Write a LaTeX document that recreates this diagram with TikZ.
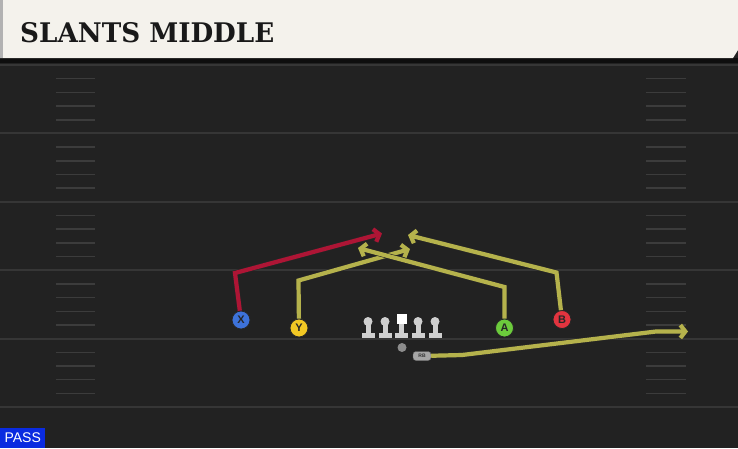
\documentclass[tikz,border=0pt]{standalone}
\usepackage{fontspec}
\setmainfont{DejaVu Serif}
\setsansfont{Liberation Sans}
\usetikzlibrary{arrows.meta}

\definecolor{field}{HTML}{222222}
\definecolor{yardline}{HTML}{363636}
\definecolor{hashline}{HTML}{3C3C3C}
\definecolor{cream}{HTML}{F4F2EC}
\definecolor{routeyel}{HTML}{B5B24C}
\definecolor{routered}{HTML}{AE1535}
\definecolor{xblue}{HTML}{3D72D9}
\definecolor{yyel}{HTML}{F2C824}
\definecolor{agreen}{HTML}{6CCB3C}
\definecolor{bred}{HTML}{E2343F}
\definecolor{lineman}{HTML}{CFCFCF}
\definecolor{passblue}{HTML}{0A2BE0}

\begin{document}
\begin{tikzpicture}[x=1pt, y=-1pt,
    route/.style={line width=4.2pt, line join=miter, -{Straight Barb[length=5pt,width=13pt]},
      preaction={draw=black!85, line width=5.4pt}},
    player/.style={circle, draw=black!85, line width=0.8pt, minimum size=18pt, inner sep=0pt,
      font=\sffamily\bfseries\fontsize{11}{11}\selectfont, text=black!85},
    hash/.style={hashline, line width=1.5pt},
    yard/.style={yardline, line width=2pt}]
  \useasboundingbox (0,0) rectangle (738,448);
  \fill[field] (0,0) rectangle (738,448);

  % field lines
  \foreach \i in {0,...,5} {
    \draw[yard] (0,65+68.4*\i) -- (738,65+68.4*\i);
  }
  \foreach \i in {0,...,4} {
    \foreach \k in {1,...,4} {
      \draw[hash] (56,65+68.4*\i+13.7*\k) -- (95,65+68.4*\i+13.7*\k);
      \draw[hash] (646,65+68.4*\i+13.7*\k) -- (686,65+68.4*\i+13.7*\k);
    }
  }

  % header
  \fill[black!60!field] (0,58) rectangle (738,63);
  \fill[cream] (0,0) -- (738,0) -- (738,50) -- (733,58) -- (0,58) -- cycle;
  \fill[black!30] (0,0) rectangle (3,58);
  \node[anchor=base west, inner sep=0pt, font=\bfseries\fontsize{27}{27}\selectfont, text=black!90,
    xscale=0.97] (title) at (20,42) {SLANTS MIDDLE};

  % line
  \foreach \x in {368,385,418,435} {
    \fill[lineman] (\x,321.5) circle (4.5);
    \fill[lineman] (\x-2.5,322) rectangle (\x+2.5,333);
    \fill[lineman] (\x-6.5,333) rectangle (\x+6.5,337.5);
  }
  \fill[white] (396.5,314) rectangle (406.5,323.5);
  \fill[lineman] (399,323.5) rectangle (404,333);
  \fill[lineman] (395,333) rectangle (408,337.5);
  \node[circle, fill=black!45, minimum size=9pt, inner sep=0pt] (QB) at (402,347.5) {};
  \node[rounded corners=3pt, fill=black!35, draw=black!60, minimum width=18pt, minimum height=9pt,
    inner sep=0pt, font=\sffamily\bfseries\fontsize{5}{5}\selectfont, text=black!80] (RB) at (422,356) {RB};

  % players
  \node[player, fill=xblue] (X) at (241,320) {X};
  \node[player, fill=yyel] (Y) at (299,328) {Y};
  \node[player, fill=agreen] (A) at (504.5,328) {A};
  \node[player, fill=bred] (B) at (562,319.5) {B};

  % routes
  \coordinate (xbreak) at (235,273);
  \coordinate (xend) at (382,233.5);
  \coordinate (ybreak) at (298.5,280.5);
  \coordinate (yend) at (410,249);
  \coordinate (abreak) at (504.5,287);
  \coordinate (aend) at (358,248);
  \coordinate (bbreak) at (556.5,272.5);
  \coordinate (bend) at (408,235);
  \coordinate (rbbreak) at (462,355);
  \coordinate (rbturn) at (656,331.5);
  \coordinate (rbend) at (688,331.5);

  \draw[route, routered] (X) -- (xbreak) -- (xend);
  \draw[route, routeyel] (Y) -- (ybreak) -- (yend);
  \draw[route, routeyel] (A) -- (abreak) -- (aend);
  \draw[route, routeyel] (B) -- (bbreak) -- (bend);
  \draw[route, routeyel] (RB) -- (rbbreak) -- (rbturn) -- (rbend);

  % play type
  \node[anchor=south west, fill=passblue, minimum width=45pt, minimum height=20pt, inner sep=0pt,
    font=\sffamily\fontsize{14}{14}\selectfont, text=white] (play) at (0,448) {PASS};
\end{tikzpicture}
\end{document}
